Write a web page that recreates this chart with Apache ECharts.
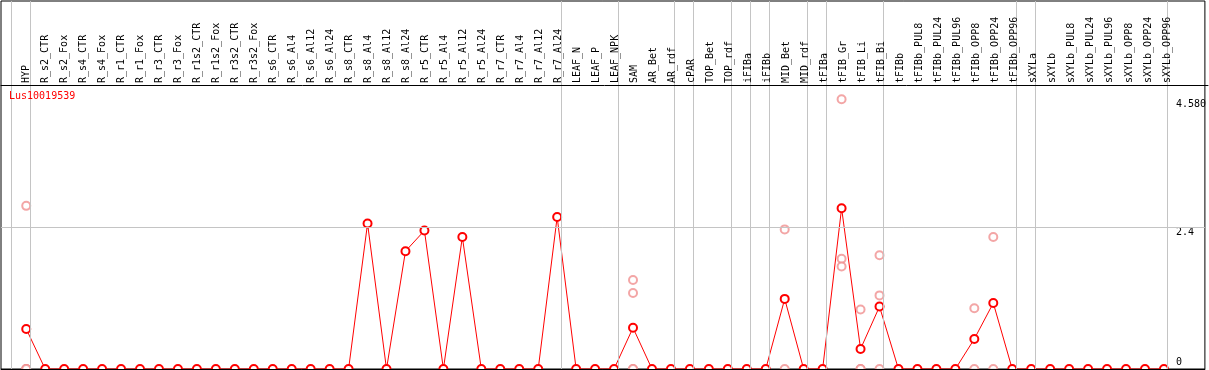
<!DOCTYPE html>
<html>
<head>
<meta charset="utf-8">
<title>Lus10019539</title>
<script src="https://cdn.jsdelivr.net/npm/echarts@6/dist/echarts.min.js"></script>
<style>
	html, body { margin: 0; padding: 0; background: #fff; }
	#main { width: 1209px; height: 370px; }
</style>
</head>
<body>
<div id="main"></div>
<script>
var geneName = 'Lus10019539';
var categories = ['HYP', 'R_s2_CTR', 'R_s2_Fox', 'R_s4_CTR', 'R_s4_Fox', 'R_r1_CTR', 'R_r1_Fox', 'R_r3_CTR', 'R_r3_Fox',
	'R_r1s2_CTR', 'R_r1s2_Fox', 'R_r3s2_CTR', 'R_r3s2_Fox', 'R_s6_CTR', 'R_s6_Al4', 'R_s6_Al12', 'R_s6_Al24',
	'R_s8_CTR', 'R_s8_Al4', 'R_s8_Al12', 'R_s8_Al24', 'R_r5_CTR', 'R_r5_Al4', 'R_r5_Al12', 'R_r5_Al24',
	'R_r7_CTR', 'R_r7_Al4', 'R_r7_Al12', 'R_r7_Al24', 'LEAF_N', 'LEAF_P', 'LEAF_NPK', 'SAM', 'AR_Bet', 'AR_rdf',
	'cPAR', 'TOP_Bet', 'TOP_rdf', 'iFIBa', 'iFIBb', 'MID_Bet', 'MID_rdf', 'tFIBa', 'tFIB_Gr', 'tFIB_Li', 'tFIB_Bi',
	'tFIBb', 'tFIBb_PUL8', 'tFIBb_PUL24', 'tFIBb_PUL96', 'tFIBb_OPP8', 'tFIBb_OPP24', 'tFIBb_OPP96',
	'sXYLa', 'sXYLb', 'sXYLb_PUL8', 'sXYLb_PUL24', 'sXYLb_PUL96', 'sXYLb_OPP8', 'sXYLb_OPP24', 'sXYLb_OPP96'];
// mean expression per sample
var meanValues = [0.68, 0, 0, 0, 0, 0, 0, 0, 0, 0, 0, 0, 0, 0, 0, 0, 0,
	0, 2.47, 0, 2.00, 2.35, 0, 2.24, 0, 0, 0, 0, 2.58, 0, 0, 0, 0.70, 0, 0,
	0, 0, 0, 0, 0, 1.19, 0, 0, 2.73, 0.34, 1.06,
	0, 0, 0, 0, 0.51, 1.12, 0,
	0, 0, 0, 0, 0, 0, 0, 0];
// single replicates (sample index, value)
var repIndex = [0, 0, 0, 0, 32, 32, 32, 32, 40, 40, 43, 43, 43, 44, 44, 44, 45, 45, 45, 50, 50, 51, 51];
var repValues = [2.77, 0, 0, 0, 1.51, 1.29, 0, 0, 2.37, 0, 4.58, 1.87, 1.74, 1.01, 0, 0, 1.93, 1.25, 0, 1.03, 0, 2.24, 0];
// last sample of each group (separators)
var groupEnds = [-1, 0, 28, 31, 34, 35, 37, 38, 39, 41, 42, 45, 52, 53, 60];
var yTickValues = [0, 2.4, 4.58];
var yTickLabels = ['0', '2.4', '4.580'];

var monoFont = '"DejaVu Sans Mono", "Liberation Mono", monospace';
var chart = echarts.init(document.getElementById('main'));

var meanData = meanValues.map(function (v, i) { return [i, v]; });
var repData = repValues.map(function (v, i) { return [repIndex[i], v]; });

var xMin = -1.331, xMax = 62.16;

var option = {
	animation: false,
	backgroundColor: '#fff',
	title: {
		text: geneName,
		left: 9,
		top: 91,
		padding: 0,
		textStyle: { color: '#ff0000', fontFamily: monoFont, fontSize: 10, fontWeight: 'normal' }
	},
	grid: [{
		left: 1,
		right: 1,
		top: 1,
		bottom: 1,
		show: true,
		borderColor: '#000',
		borderWidth: 1
	}, {
		// header strip with the sample names
		left: 1,
		right: 1,
		top: 1,
		bottom: 285
	}],
	xAxis: [{
		type: 'value',
		gridIndex: 0,
		position: 'bottom',
		min: xMin,
		max: xMax,
		z: 10,
		axisLine: { show: true, onZero: false, lineStyle: { color: '#000', width: 1 } },
		axisTick: { show: false },
		splitLine: { show: false },
		axisLabel: { show: false }
	}, {
		type: 'value',
		gridIndex: 1,
		position: 'bottom',
		min: xMin,
		max: xMax,
		z: 10,
		axisLine: { show: true, onZero: false, lineStyle: { color: '#000', width: 1 } },
		axisTick: { show: false },
		splitLine: { show: false },
		axisLabel: {
			customValues: categories.map(function (c, i) { return i; }),
			formatter: function (v) { return categories[Math.round(v)] || ''; },
			inside: true,
			rotate: 90,
			margin: 2,
			color: '#000',
			fontFamily: monoFont,
			fontSize: 10
		}
	}],
	yAxis: [{
		type: 'value',
		gridIndex: 0,
		position: 'right',
		min: 0,
		max: 6.248,
		axisLine: { show: false },
		axisTick: { show: false },
		splitLine: { show: false },
		axisLabel: {
			customValues: yTickValues,
			inside: true,
			align: 'left',
			margin: 29,
			formatter: function (v) {
				var k = yTickValues.indexOf(v);
				var txt = k >= 0 ? yTickLabels[k] : '';
				return v === 0 ? '{b|' + txt + '}' : '{t|' + txt + '}';
			},
			color: '#000',
			fontFamily: monoFont,
			fontSize: 10,
			rich: {
				t: { padding: [10, 0, 0, 0], fontFamily: monoFont, fontSize: 10, color: '#000' },
				b: { padding: [0, 0, 14, 0], fontFamily: monoFont, fontSize: 10, color: '#000' }
			}
		}
	}, {
		type: 'value',
		gridIndex: 1,
		min: 0,
		max: 1,
		show: false
	}],
	series: [{
		name: geneName + ' rep',
		type: 'scatter',
		z: 2,
		symbol: 'emptyCircle',
		symbolSize: 8,
		itemStyle: { color: '#f09090', borderWidth: 1.5 },
		data: repData,
		markLine: {
			silent: true,
			symbol: 'none',
			label: { show: false },
			lineStyle: { color: '#c4c4c4', width: 1, type: 'solid' },
			data: groupEnds.map(function (g) { return { xAxis: g + 0.2 }; }).concat([{ yAxis: 2.4 }])
		}
	}, {
		name: geneName,
		type: 'line',
		z: 3,
		symbol: 'emptyCircle',
		symbolSize: 8,
		showAllSymbol: true,
		lineStyle: { color: '#ff0000', width: 1 },
		itemStyle: { color: '#ff0000', borderWidth: 1.5 },
		data: meanData
	}]
};
chart.setOption(option);
</script>
</body>
</html>
